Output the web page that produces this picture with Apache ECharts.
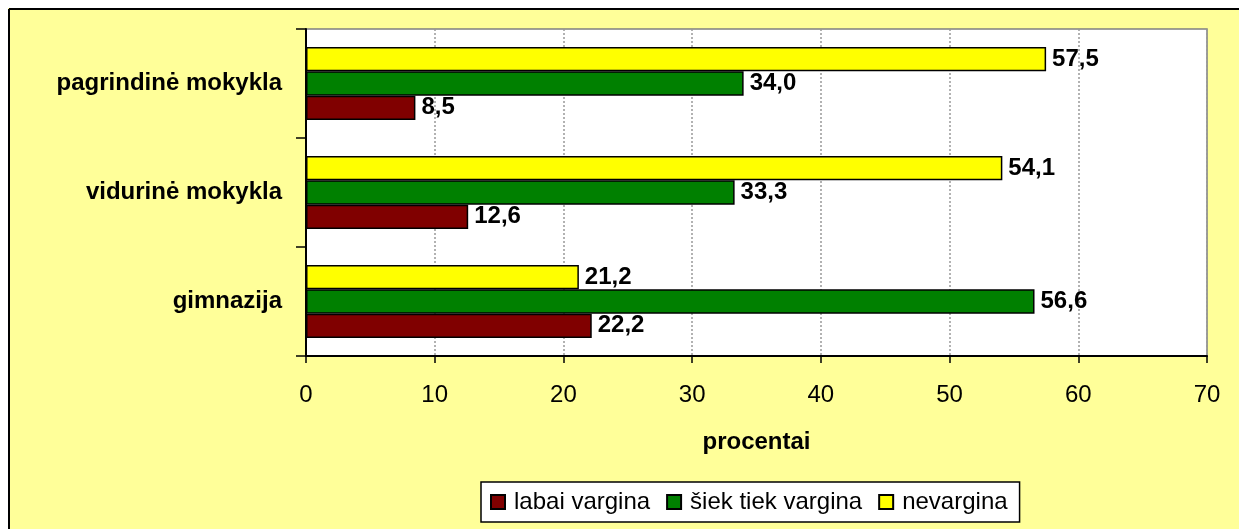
<!DOCTYPE html>
<html>
<head>
<meta charset="utf-8">
<script src="https://cdn.jsdelivr.net/npm/echarts@6/dist/echarts.min.js"></script>
<style>
html,body{margin:0;padding:0;background:#fff;}
#chart{width:1239px;height:529px;}
</style>
</head>
<body>
<div id="chart"></div>
<script>
const categories = ['gimnazija', 'vidurinė mokykla', 'pagrindinė mokykla'];
const seriesNames = ['labai vargina', 'šiek tiek vargina', 'nevargina'];
const labaiVargina = [22.2, 12.6, 8.5];
const siekTiekVargina = [56.6, 33.3, 34.0];
const nevargina = [21.2, 54.1, 57.5];
const xTicks = [0, 10, 20, 30, 40, 50, 60, 70];
const colors = ['#800000', '#008000', '#FFFF00'];

const FONT = '"Liberation Sans", Arial, sans-serif';
const fmt = v => v.toFixed(1).replace('.', ',');

const chart = echarts.init(document.getElementById('chart'), null, {renderer: 'canvas'});

function makeSeries(name, data, color) {
  return {
    name: name,
    type: 'bar',
    data: data,
    barGap: '0%',
    barCategoryGap: '33%',
    itemStyle: {color: color, borderColor: '#000', borderWidth: 1.5},
    label: {
      show: true,
      position: 'right',
      distance: 6,
      formatter: p => fmt(p.value),
      fontFamily: FONT,
      fontWeight: 'bold',
      fontSize: 24,
      color: '#000'
    }
  };
}

chart.setOption({
  animation: false,
  backgroundColor: '#FFFF99',
  textStyle: {fontFamily: FONT},
  graphic: [
    {type: 'rect', shape: {x: 0, y: 0, width: 1239, height: 8}, style: {fill: '#fff'}, silent: true},
    {type: 'rect', shape: {x: 0, y: 0, width: 8, height: 529}, style: {fill: '#fff'}, silent: true},
    {type: 'line', shape: {x1: 9, y1: 9, x2: 1239, y2: 9}, style: {stroke: '#000', lineWidth: 2}, silent: true},
    {type: 'line', shape: {x1: 9, y1: 9, x2: 9, y2: 529}, style: {stroke: '#000', lineWidth: 2}, silent: true}
  ],
  grid: {
    left: 306, right: 32, top: 29, bottom: 173,
    show: true, backgroundColor: '#fff', borderColor: '#808080', borderWidth: 1.5
  },
  legend: {
    data: seriesNames,
    left: 481, top: 482,
    orient: 'horizontal',
    backgroundColor: '#fff',
    borderColor: '#000',
    borderWidth: 1.5,
    borderRadius: 0,
    padding: [8, 12, 8, 9],
    itemGap: 16,
    itemWidth: 14,
    itemHeight: 14,
    icon: 'rect',
    textStyle: {fontFamily: FONT, fontSize: 24, color: '#000', padding: [0, 0, 0, 4]}
  },
  xAxis: {
    type: 'value',
    min: xTicks[0],
    max: xTicks[xTicks.length - 1],
    interval: 10,
    name: 'procentai',
    nameLocation: 'middle',
    nameGap: 74,
    nameTextStyle: {fontFamily: FONT, fontWeight: 'bold', fontSize: 24, color: '#000'},
    axisLine: {show: true, lineStyle: {color: '#000', width: 2}},
    axisTick: {show: true, length: 7, lineStyle: {color: '#000', width: 1.5}},
    axisLabel: {margin: 27, fontFamily: FONT, fontSize: 24, color: '#000', formatter: v => String(v)},
    splitLine: {show: true, lineStyle: {color: '#999', width: 1.5, type: [2, 2]}}
  },
  yAxis: {
    type: 'category',
    data: categories,
    axisLine: {show: true, lineStyle: {color: '#000', width: 2}},
    axisTick: {show: true, length: 10, lineStyle: {color: '#000', width: 1.5}},
    axisLabel: {margin: 24, fontFamily: FONT, fontWeight: 'bold', fontSize: 24, color: '#000'},
    splitLine: {show: false}
  },
  // ECharts places the first series of a horizontal group at the top, so list them reversed
  series: [
    makeSeries(seriesNames[2], nevargina, colors[2]),
    makeSeries(seriesNames[1], siekTiekVargina, colors[1]),
    makeSeries(seriesNames[0], labaiVargina, colors[0])
  ]
});
</script>
</body>
</html>
